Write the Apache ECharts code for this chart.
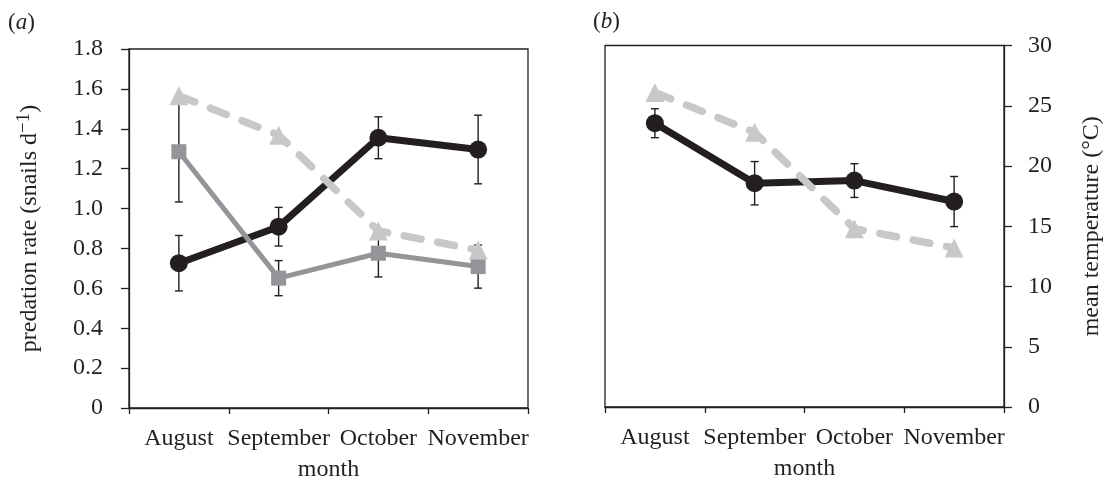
<!DOCTYPE html>
<html>
<head>
<meta charset="utf-8">
<script src="https://cdn.jsdelivr.net/npm/echarts@6/dist/echarts.min.js"></script>
<style>
html,body{margin:0;padding:0;background:#fff;}
#chart{width:1105px;height:482px;}
</style>
</head>
<body>
<div id="chart"></div>
<script>
// ---- data ----
const months = ['August', 'September', 'October', 'November'];
const rateBlack = [0.726, 0.909, 1.355, 1.296];
const rateBlackErr = [0.139, 0.097, 0.105, 0.172];
const rateGray = [1.285, 0.651, 0.776, 0.709];
const rateGrayErr = [0.252, 0.088, 0.119, 0.108];
const temperature = [26.1, 22.8, 14.8, 13.2];
const panelBBlack = [23.55, 18.57, 18.79, 17.05];
const panelBBlackErr = [1.2, 1.8, 1.4, 2.08];
const rateAxis = { min: 0, max: 1.8, interval: 0.2 };
const tempAxis = { min: 0, max: 30, interval: 5 };
const panelLabels = ['a', 'b'];
const yNameA = 'predation rate (snails d';
const yNameB = 'mean temperature (°C)';
const xName = 'month';

// ---- style ----
const FONT = 'Liberation Serif';
const INK = '#231f20';
const GRAY = '#939598';
const LIGHT = '#c7c8ca';
const FS = 24;

const chart = echarts.init(document.getElementById('chart'), null, { renderer: 'canvas' });

function errorBars(vals, errs, xi, yi) {
  return {
    type: 'custom', xAxisIndex: xi, yAxisIndex: yi, z: 1, silent: true,
    data: vals.map((v, i) => [i, v, errs[i]]),
    encode: { x: 0, y: 1 },
    renderItem: function (params, api) {
      const x = api.value(0), v = api.value(1), e = api.value(2);
      const p1 = api.coord([x, v + e]);
      const p2 = api.coord([x, v - e]);
      const hw = 4;
      const style = { stroke: INK, lineWidth: 1.4 };
      return {
        type: 'group',
        children: [
          { type: 'line', shape: { x1: p1[0], y1: p1[1], x2: p2[0], y2: p2[1] }, style: style },
          { type: 'line', shape: { x1: p1[0] - hw, y1: p1[1], x2: p1[0] + hw, y2: p1[1] }, style: style },
          { type: 'line', shape: { x1: p2[0] - hw, y1: p2[1], x2: p2[0] + hw, y2: p2[1] }, style: style }
        ]
      };
    }
  };
}

const axisLineStyle = { color: INK, width: 1.3 };

function xAxisFor(gi) {
  return {
    type: 'category', gridIndex: gi, data: months, boundaryGap: true,
    axisLine: { show: true, lineStyle: axisLineStyle },
    axisTick: { show: true, length: 6, lineStyle: axisLineStyle, alignWithLabel: false },
    axisLabel: { interval: 0, fontFamily: FONT, fontSize: FS, color: INK, margin: 19 },
    splitLine: { show: false },
    name: xName, nameLocation: 'middle', nameGap: 50,
    nameTextStyle: { fontFamily: FONT, fontSize: FS, color: INK }
  };
}

const option = {
  animation: false,
  backgroundColor: '#fff',
  grid: [
    { left: 129, top: 49, right: 577, bottom: 74, show: true, borderColor: INK, borderWidth: 1.3, backgroundColor: 'transparent', containLabel: false, outerBoundsMode: 'none' },
    { left: 605, top: 45.5, right: 101, bottom: 75, show: true, borderColor: INK, borderWidth: 1.3, backgroundColor: 'transparent', containLabel: false, outerBoundsMode: 'none' }
  ],
  xAxis: [xAxisFor(0), xAxisFor(1)],
  yAxis: [
    {
      type: 'value', gridIndex: 0, position: 'left', min: rateAxis.min, max: rateAxis.max, interval: rateAxis.interval,
      axisLine: { show: true, lineStyle: axisLineStyle },
      axisTick: { show: true, length: 8, lineStyle: axisLineStyle },
      axisLabel: { fontFamily: FONT, fontSize: FS, color: INK, margin: 26,
        formatter: v => (v === 0 ? '0' : v.toFixed(1)) },
      splitLine: { show: false },
      name: '{n|' + yNameA + '}{s|−1}{n|)}', nameLocation: 'middle', nameGap: 85, nameRotate: 90,
      nameTextStyle: { fontFamily: FONT, fontSize: FS, color: INK,
        rich: {
          n: { fontFamily: FONT, fontSize: FS, color: INK, lineHeight: 29 },
          s: { fontFamily: FONT, fontSize: 19, color: INK, verticalAlign: 'top', lineHeight: 19 }
        } }
    },
    {
      type: 'value', gridIndex: 0, position: 'right', min: tempAxis.min, max: tempAxis.max, interval: tempAxis.interval,
      show: false, splitLine: { show: false }
    },
    {
      type: 'value', gridIndex: 1, position: 'right', min: tempAxis.min, max: tempAxis.max, interval: tempAxis.interval,
      axisLine: { show: true, lineStyle: axisLineStyle },
      axisTick: { show: true, length: 8, lineStyle: axisLineStyle },
      axisLabel: { fontFamily: FONT, fontSize: FS, color: INK, margin: 24 },
      splitLine: { show: false },
      name: yNameB, nameLocation: 'middle', nameGap: 76, nameRotate: 90,
      nameTextStyle: { fontFamily: FONT, fontSize: FS, color: INK }
    }
  ],
  graphic: [
    { type: 'text', left: 8, top: 11, style: { text: '{n|(}{i|' + panelLabels[0] + '}{n|)}',
      rich: { n: { fontFamily: FONT, fontSize: 23, fill: INK }, i: { fontFamily: FONT, fontSize: 23, fontStyle: 'italic', fill: INK } } } },
    { type: 'text', left: 593, top: 10, style: { text: '{n|(}{i|' + panelLabels[1] + '}{n|)}',
      rich: { n: { fontFamily: FONT, fontSize: 23, fill: INK }, i: { fontFamily: FONT, fontSize: 23, fontStyle: 'italic', fill: INK } } } }
  ],
  series: [
    errorBars(rateBlack, rateBlackErr, 0, 0),
    errorBars(rateGray, rateGrayErr, 0, 0),
    {
      type: 'line', xAxisIndex: 0, yAxisIndex: 0, data: rateBlack, z: 3,
      symbol: 'circle', symbolSize: 18, itemStyle: { color: INK },
      lineStyle: { color: INK, width: 7 }
    },
    {
      type: 'line', xAxisIndex: 0, yAxisIndex: 0, data: rateGray, z: 4,
      symbol: 'rect', symbolSize: 15, itemStyle: { color: GRAY },
      lineStyle: { color: GRAY, width: 5 }
    },
    {
      type: 'line', xAxisIndex: 0, yAxisIndex: 1, data: temperature, z: 5,
      symbol: 'triangle', symbolSize: 19, itemStyle: { color: LIGHT },
      lineStyle: { color: LIGHT, width: 7.5, type: [17, 17], cap: 'round' }
    },
    errorBars(panelBBlack, panelBBlackErr, 1, 2),
    {
      type: 'line', xAxisIndex: 1, yAxisIndex: 2, data: panelBBlack, z: 3,
      symbol: 'circle', symbolSize: 18, itemStyle: { color: INK },
      lineStyle: { color: INK, width: 7 }
    },
    {
      type: 'line', xAxisIndex: 1, yAxisIndex: 2, data: temperature, z: 5,
      symbol: 'triangle', symbolSize: 19, itemStyle: { color: LIGHT },
      lineStyle: { color: LIGHT, width: 7.5, type: [17, 17], cap: 'round' }
    }
  ]
};
chart.setOption(option);
</script>
</body>
</html>
